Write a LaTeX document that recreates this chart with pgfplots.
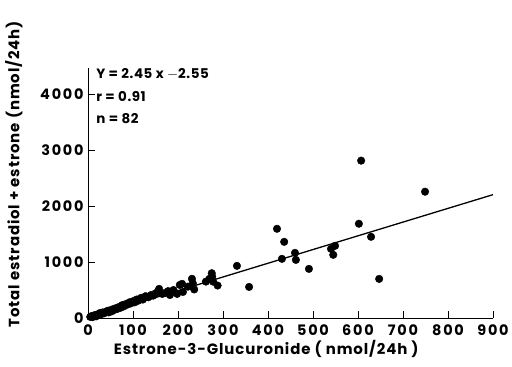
\documentclass[border=0pt]{standalone}
\usepackage{pgfplots}
\pgfplotsset{compat=1.18}
\usepackage{fontspec}
\setmainfont{Poppins}[LetterSpace=4]
\newfontfamily\tickfont{Poppins}[LetterSpace=12]
\newfontfamily\labfont{Poppins}[LetterSpace=6]
\begin{document}
\begin{tikzpicture}
\useasboundingbox (-88bp,-49bp) rectangle (424bp,318bp);
\begin{axis}[
  at={(0,0)}, anchor=south west,
  scale only axis, width=405bp, height=250bp,
  xmin=0, xmax=900, ymin=0, ymax=4464,
  axis lines=left, axis line style={-, line width=0.9pt},
  xtick={0,100,...,900}, ytick={0,1000,2000,3000,4000},
  tick style={line width=0.9pt, black},
  tick align=inside, major tick length=7bp,
  /pgf/number format/assume math mode=true,
  /pgf/number format/1000 sep={},
  tick label style={font=\tickfont\bfseries\fontsize{14.5}{16}\selectfont},
  xticklabel style={yshift=-3bp},
  yticklabel style={xshift=-1bp},
  xlabel={Estrone-3-Glucuronide ( nmol/24h )},
  ylabel={Total estradiol + estrone (nmol/24h)},
  label style={font=\labfont\bfseries\fontsize{15}{17}\selectfont},
  xlabel style={at={(axis description cs:0.44,0)}, anchor=north, yshift=-19bp},
  ylabel style={at={(axis description cs:0,0.575)}, anchor=south, yshift=62bp},
  clip=false,
]
\addplot[black, line width=1.3pt] coordinates {(0,-2.55) (900,2202.45)};
\addplot[only marks, mark=*, mark size=3.8bp, black] coordinates {
(5,20) (8,35) (10,15) (13,40) (16,55) (18,30) (20,45) (21,60) (24,75) (27,90)
(30,70) (33,100) (36,85) (40,110) (43,125) (45,130) (46,100) (50,140) (53,120) (56,160)
(60,150) (63,180) (66,165) (68,190) (70,200) (73,185) (76,230) (80,210) (84,250) (88,240)
(92,280) (95,260) (100,300) (104,280) (108,330) (112,310) (115,340) (118,360) (122,330) (128,390)
(134,370) (140,410) (145,400) (150,440) (155,470) (158,520) (165,430) (172,450) (178,480) (182,410)
(186,470) (190,500) (198,430) (204,590) (209,610) (211,465) (222,560) (231,700) (233,620) (236,510)
(262,650) (270,700) (275,800) (276,740) (278,650) (288,580)
(331,931) (358,555) (420,1593) (436,1360) (431,1056) (460,1163) (462,1038) (491,877)
(540,1235) (549,1289) (545,1128) (602,1683) (607,2810) (629,1450) (647,698) (749,2255)
};
\node[anchor=west, font=\bfseries\fontsize{13.5}{15}\selectfont, inner sep=0pt] at (axis cs:18,4350) {Y = 2.45 x $-$2.55};
\node[anchor=west, font=\bfseries\fontsize{13.5}{15}\selectfont, inner sep=0pt] at (axis cs:18,3956) {r = 0.91};
\node[anchor=west, font=\bfseries\fontsize{13.5}{15}\selectfont, inner sep=0pt] at (axis cs:18,3562) {n = 82};
\end{axis}
\end{tikzpicture}
\end{document}
